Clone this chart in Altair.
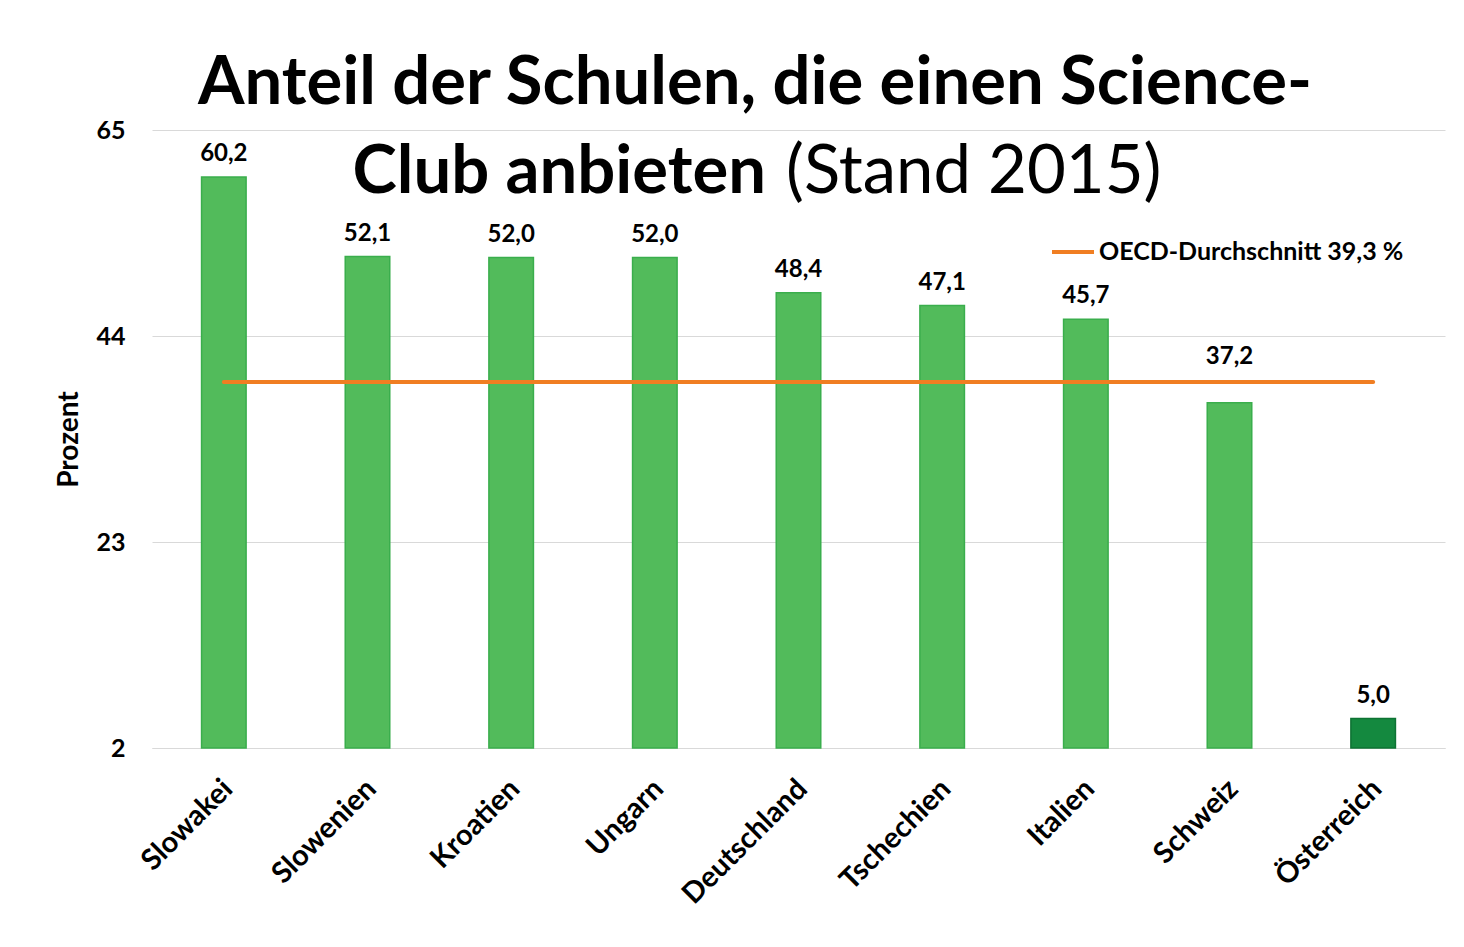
import altair as alt
import pandas as pd

# ---- data ----
countries = ["Slowakei", "Slowenien", "Kroatien", "Ungarn", "Deutschland",
             "Tschechien", "Italien", "Schweiz", "Österreich"]
values = [60.2, 52.1, 52.0, 52.0, 48.4, 47.1, 45.7, 37.2, 5.0]
oecd_avg = 39.3
oecd_label = "OECD-Durchschnitt 39,3 %"
y_ticks = [2, 23, 44, 65]
highlight = "Österreich"
raised_label = "Schweiz"
title_line1 = ["Anteil der Schulen, die einen Science-"]
title_line2_bold = ["Club anbieten"]
title_line2_normal = ["(Stand 2015)"]

FONT = "Lato"

df = pd.DataFrame({
    "land": countries,
    "wert": values,
    "label": [f"{v:.1f}".replace(".", ",") for v in values],
})
df_avg = pd.DataFrame({
    "land": countries,
    "wert": [oecd_avg] * len(countries),
    "serie": [oecd_label] * len(countries),
})

x_enc = alt.X(
    "land:N", sort=countries,
    scale=alt.Scale(paddingInner=0.69, paddingOuter=0.345),
    axis=alt.Axis(title=None, labelAngle=-45, labelFont=FONT, labelFontSize=29,
                  labelFontWeight="bold", labelColor="black", labelPadding=26,
                  labelOffset=-6, ticks=False, domainColor="#d9d9d9", grid=False),
)
y_scale = alt.Scale(domain=[2, 65], nice=False, zero=False)

bars = alt.Chart(df).mark_bar(strokeWidth=1.5).encode(
    x=x_enc,
    y=alt.Y("wert:Q", scale=y_scale,
            axis=alt.Axis(values=y_ticks, title="Prozent", titleFont=FONT,
                          titleFontSize=28, titleFontWeight="bold", titleColor="black",
                          titlePadding=12, labelFont=FONT, labelFontSize=25,
                          labelFontWeight="bold", labelColor="black", labelPadding=27,
                          ticks=False, domain=False, gridColor="#d9d9d9")),
    y2=alt.datum(2),
    color=alt.condition(alt.datum.land == highlight, alt.value("#14893f"), alt.value("#52bb5b")),
    stroke=alt.condition(alt.datum.land == highlight, alt.value("#0d7333"), alt.value("#3aae4c")),
)

label_style = dict(baseline="bottom", font=FONT, fontSize=24, fontWeight="bold", color="black")
label_enc = dict(x=alt.X("land:N", sort=countries), y=alt.Y("wert:Q", scale=y_scale), text="label:N")

value_labels = alt.Chart(df).mark_text(dy=-11, **label_style).encode(**label_enc).transform_filter(
    alt.datum.land != raised_label)
value_labels_raised = alt.Chart(df).mark_text(dy=-34, **label_style).encode(**label_enc).transform_filter(
    alt.datum.land == raised_label)

avg_line = alt.Chart(df_avg).mark_line(strokeWidth=4, strokeCap="round").encode(
    x=alt.X("land:N", sort=countries),
    y=alt.Y("wert:Q", scale=y_scale),
    color=alt.Color("serie:N", scale=alt.Scale(range=["#f07e22"]),
                    legend=alt.Legend(title=None, orient="none", legendX=898, legendY=99,
                                      symbolType="stroke", symbolSize=1764,
                                      symbolStrokeWidth=4, labelFont=FONT,
                                      labelFontSize=25, labelFontWeight="bold",
                                      labelColor="black", labelOffset=3, labelLimit=0)),
)

t1 = alt.Chart(pd.DataFrame({"t": title_line1})).mark_text(
    font=FONT, fontSize=67, fontWeight="bold", color="black", align="center",
    baseline="alphabetic"
).encode(x=alt.value(603), y=alt.value(-26), text="t:N")

t2a = alt.Chart(pd.DataFrame({"t": title_line2_bold})).mark_text(
    font=FONT, fontSize=67, fontWeight="bold", color="black", align="right",
    baseline="alphabetic"
).encode(x=alt.value(614), y=alt.value(63), text="t:N")

t2b = alt.Chart(pd.DataFrame({"t": title_line2_normal})).mark_text(
    font=FONT, fontSize=67, fontWeight="normal", color="black", align="left",
    baseline="alphabetic"
).encode(x=alt.value(634), y=alt.value(63), text="t:N")

chart = alt.layer(bars, avg_line, value_labels, value_labels_raised, t1, t2a, t2b).properties(
    width=1293, height=618,
    autosize=alt.AutoSizeParams(type="none"),
    padding={"left": 144, "top": 122, "right": 11, "bottom": 190},
    background="white",
).configure_view(stroke=None)

chart.save("out.html", embed_options={"renderer": "svg", "actions": False})
